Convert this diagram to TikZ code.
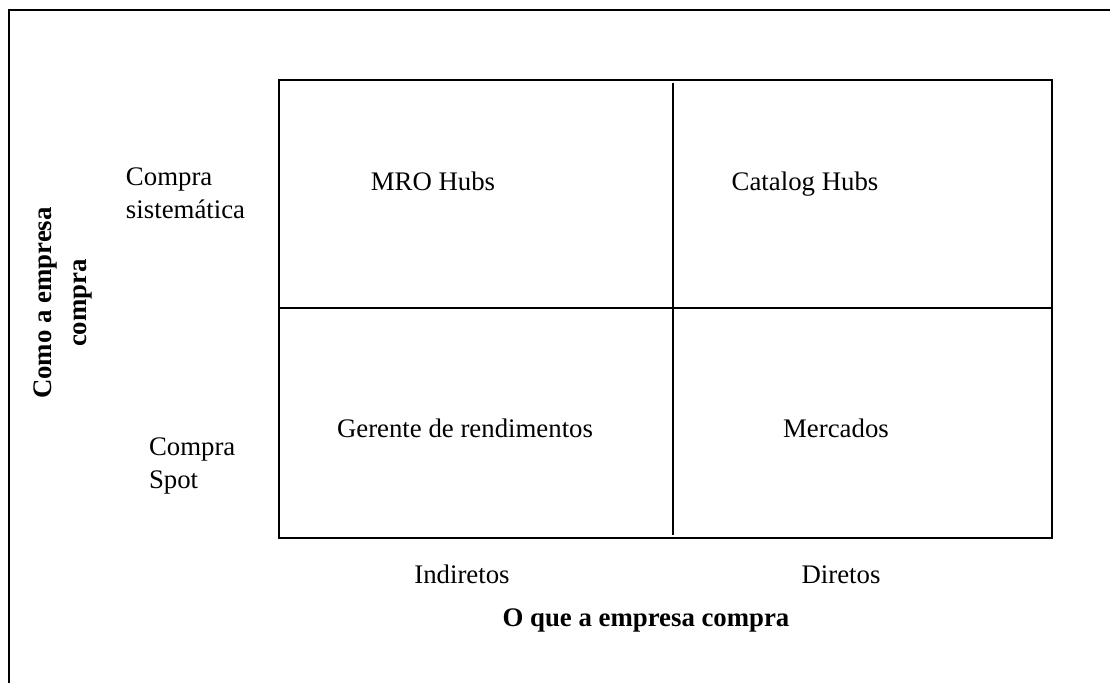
\documentclass[tikz,border=0pt]{standalone}
\usepackage{fontspec}
\setmainfont{Liberation Serif}
\begin{document}
\begin{tikzpicture}[x=0.5pt,y=-0.5pt,
  every node/.style={inner sep=0pt,outer sep=0pt,font=\fontsize{13.4}{16.5}\selectfont},
  lbl/.style={anchor=center,text height=0.68em,text depth=0.22em},
  side/.style={anchor=west,align=left},
  axis/.style={font=\fontsize{13.4}{17.5}\selectfont\bfseries,align=center},
  frame/.style={line width=1pt},
  grid/.style={line width=1pt}]
\useasboundingbox (0,0) rectangle (1110,682);
% outer frame (only top and left edges visible)
\draw[frame] (9,690) -- (9,10) -- (1120,10);
% matrix
\coordinate (tl) at (279,80);
\coordinate (br) at (1052,538);
\draw[grid] (tl) rectangle (br);
\coordinate (ml) at (279,308);
\coordinate (mr) at (1052,308);
\draw[grid] (ml) -- (mr);
\coordinate (vt) at (673,83);
\coordinate (vb) at (673,535);
\draw[grid] (vt) -- (vb);
% quadrant labels
\node[lbl] (mro) at (433,186) {MRO Hubs};
\node[lbl] (cat) at (805,186) {Catalog Hubs};
\node[lbl] (ger) at (465,433) {Gerente de rendimentos};
\node[lbl] (mer) at (836,433) {Mercados};
% row labels
\node[side] (sis) at (126,193) {Compra\\sistemática};
\node[side] (spot) at (149,466) {Compra\\Spot};
% column labels
\node[lbl] (ind) at (462,579) {Indiretos};
\node[lbl] (dir) at (841,579) {Diretos};
% axis titles
\node[axis,text height=0.68em,text depth=0.22em] (xax) at (646,622) {O que a empresa compra};
\node[axis,rotate=90] (yax) at (63,303) {Como a empresa\\compra};
\end{tikzpicture}
\end{document}
